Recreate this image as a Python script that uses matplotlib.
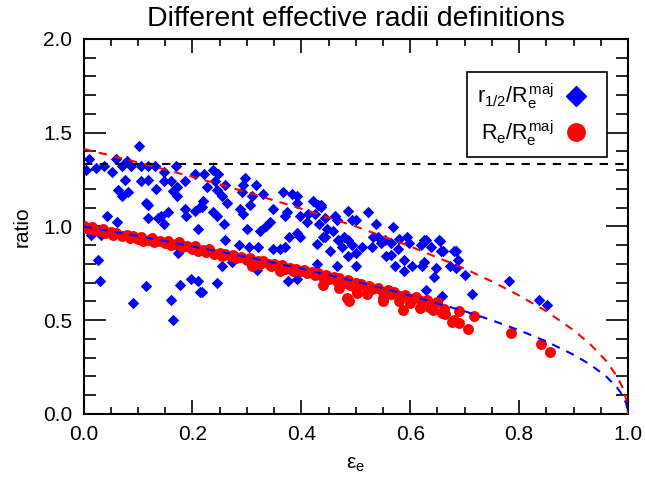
import matplotlib
matplotlib.use('Agg')
import matplotlib.pyplot as plt
from matplotlib.lines import Line2D
from matplotlib.ticker import MultipleLocator

plt.rcParams['font.family'] = ['Liberation Sans', 'DejaVu Sans']
plt.rcParams['mathtext.fontset'] = 'custom'
plt.rcParams['mathtext.rm'] = 'Liberation Sans'
plt.rcParams['mathtext.it'] = 'Liberation Sans'
plt.rcParams['mathtext.bf'] = 'Liberation Sans:bold'

# r_1/2 / R_e^maj  (blue diamonds)
blue_eps = [0.101, 0.010, 0.005, 0.022, 0.037, 0.052, 0.059, 0.070, 0.079, 0.088,
            0.077, 0.105, 0.105, 0.119, 0.119, 0.132, 0.147, 0.147, 0.169, 0.161,
            0.171, 0.165, 0.171, 0.134, 0.064, 0.070, 0.081, 0.187, 0.205, 0.114,
            0.119, 0.119, 0.137, 0.143, 0.148, 0.156, 0.187, 0.189, 0.205, 0.214,
            0.211, 0.043, 0.061, 0.013, 0.032, 0.174, 0.026, 0.030, 0.114, 0.090,
            0.161, 0.165, 0.178, 0.198, 0.214, 0.211,
            0.238, 0.222, 0.247, 0.227, 0.242, 0.245, 0.260, 0.255, 0.264, 0.297,
            0.293, 0.291, 0.317, 0.309, 0.330, 0.306, 0.288, 0.293, 0.220, 0.218,
            0.238, 0.245, 0.258, 0.348, 0.342, 0.335, 0.324, 0.300, 0.366, 0.382,
            0.392, 0.392, 0.373, 0.370, 0.397, 0.410, 0.421, 0.430, 0.437, 0.412,
            0.425, 0.432, 0.377, 0.393, 0.397, 0.428, 0.439, 0.260, 0.286, 0.304,
            0.320, 0.348, 0.361, 0.370, 0.273, 0.255, 0.319, 0.428, 0.375, 0.392,
            0.245, 0.218,
            0.437, 0.443, 0.461, 0.465, 0.447, 0.458, 0.443, 0.467, 0.452, 0.465,
            0.485, 0.494, 0.501, 0.523, 0.538, 0.479, 0.485, 0.494, 0.475, 0.485,
            0.501, 0.501, 0.512, 0.529, 0.531, 0.540, 0.547, 0.553, 0.556, 0.565,
            0.569, 0.565, 0.580, 0.578, 0.573, 0.589, 0.589, 0.595, 0.598, 0.604,
            0.620, 0.626, 0.629, 0.638, 0.626, 0.622, 0.653, 0.657, 0.648, 0.644,
            0.629, 0.659,
            0.655, 0.660, 0.681, 0.684, 0.688, 0.673, 0.684, 0.701, 0.713, 0.781,
            0.836, 0.851]
blue_ratio = [1.43, 1.36, 1.30, 1.31, 1.32, 1.29, 1.36, 1.32, 1.35, 1.32,
              1.25, 1.32, 1.24, 1.25, 1.32, 1.32, 1.29, 1.24, 1.32, 1.24,
              1.21, 1.19, 1.165, 1.20, 1.195, 1.165, 1.185, 1.24, 1.28, 1.125,
              1.115, 1.045, 1.045, 1.055, 1.015, 1.075, 1.095, 1.055, 1.085, 1.105,
              0.985, 1.055, 1.025, 0.955, 0.955, 0.86, 0.82, 0.71, 0.68, 0.59,
              0.61, 0.50, 0.69, 0.72, 0.65, 0.71,
              1.30, 1.28, 1.28, 1.21, 1.24, 1.195, 1.22, 1.165, 1.125, 1.26,
              1.22, 1.185, 1.22, 1.165, 1.175, 1.115, 1.095, 1.065, 1.135, 1.105,
              1.075, 1.055, 1.015, 1.095, 1.025, 1.005, 0.975, 0.985, 1.185, 1.175,
              1.165, 1.125, 1.075, 1.055, 1.055, 1.025, 1.135, 1.115, 1.105, 1.065,
              1.065, 1.015, 0.945, 0.965, 0.945, 0.905, 0.945, 0.93, 0.90, 0.89,
              0.89, 0.88, 0.88, 0.89, 0.81, 0.79, 0.77, 0.80, 0.71, 0.72,
              0.70, 0.65,
              1.115, 1.045, 1.055, 1.035, 0.985, 0.975, 0.945, 0.93, 0.87, 0.79,
              1.085, 1.035, 1.035, 1.075, 1.015, 0.945, 0.93, 0.90, 0.89, 0.84,
              0.86, 0.79, 0.89, 0.89, 0.945, 0.945, 0.91, 0.93, 0.84, 0.85,
              0.995, 0.91, 0.935, 0.88, 0.79, 0.82, 0.76, 0.945, 0.91, 0.79,
              0.90, 0.93, 0.93, 0.89, 0.81, 0.79, 0.93, 0.87, 0.78, 0.73,
              0.66, 0.63,
              0.92, 0.87, 0.87, 0.87, 0.82, 0.79, 0.78, 0.74, 0.64, 0.71,
              0.61, 0.58]

# R_e / R_e^maj  (red circles)
red_eps = [0.0, 0.005, 0.01, 0.015, 0.02, 0.03, 0.035, 0.04, 0.05, 0.055,
           0.06, 0.07, 0.08, 0.085, 0.09, 0.1, 0.105, 0.11, 0.12, 0.125,
           0.13, 0.14, 0.15, 0.155, 0.16, 0.17, 0.175, 0.18, 0.19, 0.2,
           0.205, 0.21, 0.22, 0.225, 0.23, 0.24, 0.25, 0.255, 0.26, 0.27,
           0.275, 0.28, 0.29, 0.3, 0.305, 0.31, 0.32, 0.325, 0.33, 0.34,
           0.345, 0.35, 0.36, 0.365, 0.37, 0.38, 0.385, 0.39, 0.4, 0.405,
           0.41, 0.42, 0.425, 0.43, 0.44, 0.445, 0.45, 0.46, 0.465, 0.47,
           0.48, 0.485, 0.49, 0.5, 0.505, 0.51, 0.52, 0.525, 0.53, 0.54,
           0.55, 0.56, 0.565, 0.57, 0.58, 0.59, 0.6, 0.61, 0.62, 0.63,
           0.64, 0.65,
           0.662, 0.664, 0.676, 0.689, 0.689, 0.706, 0.718, 0.786, 0.841, 0.856,
           0.488, 0.44, 0.47, 0.52, 0.55, 0.58, 0.6, 0.62, 0.635, 0.5,
           0.36, 0.31, 0.587, 0.618, 0.642, 0.658, 0.484, 0.55, 0.502, 0.68]
red_ratio = [1.0, 0.99, 0.985, 0.995, 0.98, 0.975, 0.985, 0.965, 0.97, 0.955,
             0.965, 0.95, 0.955, 0.94, 0.95, 0.935, 0.945, 0.925, 0.93, 0.94,
             0.915, 0.92, 0.91, 0.925, 0.9, 0.905, 0.915, 0.89, 0.895, 0.88,
             0.895, 0.87, 0.875, 0.865, 0.88, 0.855, 0.86, 0.845, 0.855, 0.84,
             0.85, 0.83, 0.835, 0.82, 0.83, 0.81, 0.815, 0.8, 0.815, 0.8,
             0.79, 0.8, 0.785, 0.795, 0.775, 0.78, 0.765, 0.775, 0.76, 0.77,
             0.75, 0.755, 0.74, 0.75, 0.73, 0.74, 0.72, 0.73, 0.71, 0.725,
             0.70, 0.715, 0.69, 0.70, 0.68, 0.695, 0.67, 0.685, 0.665, 0.67,
             0.65, 0.66, 0.64, 0.65, 0.63, 0.635, 0.615, 0.625, 0.60, 0.61,
             0.585, 0.595,
             0.56, 0.535, 0.49, 0.485, 0.55, 0.455, 0.525, 0.43, 0.375, 0.33,
             0.605, 0.69, 0.67, 0.64, 0.62, 0.60, 0.59, 0.575, 0.57, 0.665,
             0.76, 0.79, 0.555, 0.565, 0.555, 0.54, 0.62, 0.60, 0.645, 0.50]

# model curves
curve_eps = [0.0, 0.1, 0.2, 0.3, 0.4, 0.5, 0.6, 0.7, 0.75, 0.8, 0.85, 0.9,
             0.93, 0.96, 0.98, 0.99, 0.997, 1.0]
curve_blue = [1.0, 0.949, 0.894, 0.837, 0.775, 0.707, 0.632, 0.548, 0.5, 0.447,
              0.387, 0.316, 0.265, 0.2, 0.141, 0.1, 0.055, 0.0]
curve_red = [1.414, 1.342, 1.265, 1.183, 1.095, 1.0, 0.894, 0.775, 0.707, 0.632,
             0.548, 0.447, 0.374, 0.283, 0.2, 0.141, 0.077, 0.0]
ratio_line = 1.333

fig = plt.figure(figsize=(6.45, 4.83), dpi=100)
ax = fig.add_axes([0.1295, 0.1429, 0.8441, 0.7764])

ax.scatter(blue_eps, blue_ratio, marker='D', s=34, color='blue', linewidths=0, zorder=2)
ax.scatter(red_eps, red_ratio, marker='o', s=62, color='red', linewidths=0, zorder=3)

dash = (0, (4, 3.5))
ax.plot(curve_eps, curve_red, color='red', ls=dash, lw=1.5, zorder=4)
ax.plot(curve_eps, curve_blue, color='blue', ls=dash, lw=1.5, zorder=4)
ax.axhline(ratio_line, color='black', ls=dash, lw=1.5, zorder=4)

ax.set_xlim(0, 1)
ax.set_ylim(0, 2)
ax.xaxis.set_major_locator(MultipleLocator(0.2))
ax.xaxis.set_minor_locator(MultipleLocator(0.05))
ax.yaxis.set_major_locator(MultipleLocator(0.5))
ax.yaxis.set_minor_locator(MultipleLocator(0.1))
ax.xaxis.set_major_formatter(plt.FormatStrFormatter('%.1f'))
ax.yaxis.set_major_formatter(plt.FormatStrFormatter('%.1f'))

ax.tick_params(axis='both', which='both', direction='in', top=True, right=True,
               width=1.2, labelsize=15, pad=8)
ax.tick_params(axis='x', which='major', length=10)
ax.tick_params(axis='x', which='minor', length=5)
ax.tick_params(axis='y', which='major', length=16)
ax.tick_params(axis='y', which='minor', length=8.5)
for sp in ax.spines.values():
    sp.set_linewidth(1.5)

ax.set_title('Different effective radii definitions', fontsize=20.5, pad=9)
ax.set_xlabel(r'$\varepsilon_e$', fontsize=15, labelpad=8)
ax.set_ylabel('ratio', fontsize=15, labelpad=8)

handles = [Line2D([], [], ls='none', marker='D', ms=10, color='blue'),
           Line2D([], [], ls='none', marker='o', ms=12.5, color='red')]
labels = [r'$r_{1/2}/R_e^{maj}$', r'$R_e/R_e^{maj}$']
leg = ax.legend(handles, labels, loc='upper right', bbox_to_anchor=(0.961, 0.912),
                markerfirst=False, fontsize=15.5, frameon=True, fancybox=False,
                edgecolor='black', framealpha=1, borderpad=0.45, labelspacing=0.3,
                handletextpad=0.0, handlelength=2.0, borderaxespad=0)
leg.get_frame().set_linewidth(1.2)

fig.savefig('out.png', dpi=100)
